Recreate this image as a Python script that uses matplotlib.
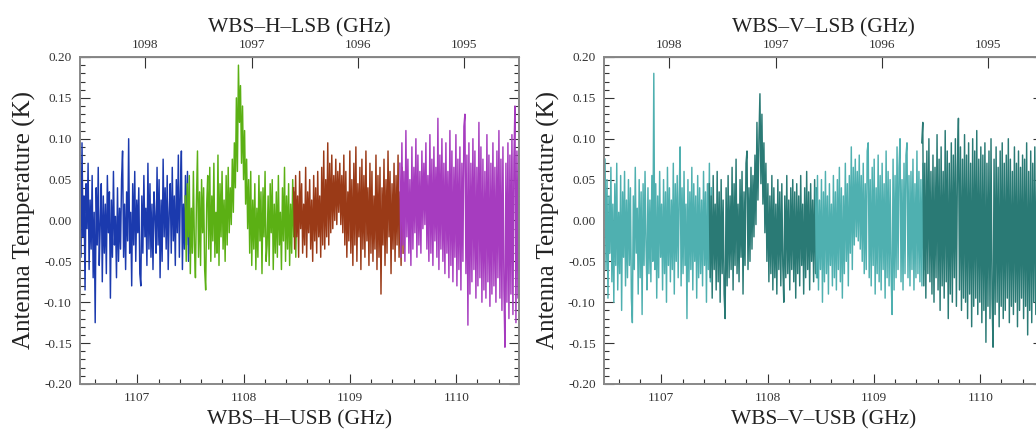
import numpy as np
import matplotlib.pyplot as plt
from matplotlib.ticker import MultipleLocator, FormatStrFormatter

plt.rcParams['font.family'] = ['Liberation Serif', 'DejaVu Serif']

# LSB = lo2 - USB (GHz)
lo2 = 2205.075

# ---- WBS-H spectrum, antenna temperature in mK, one list per sub-band ----
h_ranges = [(1106.46, 1107.50), (1107.45, 1108.50), (1108.47, 1109.50), (1109.47, 1110.59)]
h_colors = ['#1b3aae', '#5bb014', '#9a3a17', '#a63cbf']

h_blue = [60, -45, 95, -20, 30, -85, 45, -10, 70, -60,
          25, -35, 55, -70, 10, -125, 40, -30, 65, -55,
          -5, 45, -75, 30, -40, 20, -65, 55, -15, 35,
          -95, 25, -45, 60, -30, 5, -70, 40, -50, 15,
          -35, 50, 85, -45, 20, -60, 35, -25, 100, -40,
          10, -80, 45, -30, 60, -50, 25, -15, 40, -65,
          -80, 30, -40, 55, -20, 15, -55, 70, -35, 45,
          -45, 20, -60, 35, 5, -40, 65, -30, 50, -70,
          25, -50, 75, -20, 40, -35, 55, -60, 10, 45,
          -40, 65, -25, 30, -55, 50, -15, 80, -45, 35,
          85, -60, 20, -35, 55, -30, 60, -50, 15, -40]
h_green = [30, -50, 45, -20, 55, -65, 15, -40, 60, -30,
           -70, 25, 85, -45, 35, -55, 50, -15, 40, -60,
           -85, 20, 55, -35, 65, -50, 30, -25, 70, -45,
           10, -40, 80, -55, 45, -20, 60, -35, 25, -50,
           55, -30, 65, -15, 40, -5, 75, 10, 95, 40,
           150, 60, 190, 120, 165, 70, 140, 50, 110, 20,
           75, -10, 50, -40, 60, -55, 25, -35, 45, -60,
           15, -45, 55, -25, 35, -65, 40, -20, 60, -50,
           -30, 30, -55, 45, -15, 50, -60, 20, -40, 35,
           -45, 55, -30, 10, -60, 40, -25, 65, -50, 30,
           -35, 45, -55, 20, -40, 50, -20, 35, -45, 25]
h_brown = [40, -35, 55, -20, 30, -45, 60, -10, 45, -40,
           20, -30, 65, -45, 35, -15, 50, -35, 25, -50,
           55, -25, 40, -40, 60, -20, 30, -45, 65, -30,
           85, -35, 50, -20, 95, -30, 70, -15, 80, -10,
           55, 0, 75, -5, 60, 10, 70, -5, 55, -15,
           80, -30, 60, -45, 35, -25, 85, -40, 50, -55,
           70, -30, 90, -50, 45, -20, 65, -60, 75, -35,
           55, -45, 85, -25, 40, -55, 70, -40, 60, -50,
           30, -35, 80, -60, 55, -45, 65, -90, 40, -30,
           75, -55, 50, -40, 85, -20, 60, -65, 45, -35,
           70, -50, 55, -30, 80, -45, 35, -55, 65, -40]
h_purple = [70, -45, 95, -30, 60, -50, 110, -20, 75, -40,
            50, -55, 90, -35, 65, -15, 100, -45, 80, -30,
            60, -40, 85, -10, 70, -5, 95, -35, 55, -50,
            105, -40, 75, -55, 90, -25, 65, -45, 125, -60,
            80, -35, 100, -50, 70, -65, 95, -40, 60, -70,
            110, -55, 85, -75, 65, -45, 105, -80, 75, -60,
            90, -85, 70, -50, 115, 130, -65, 80, -128, 95,
            -90, 70, -75, 100, -60, 85, -95, 65, -80, 120,
            -70, 90, -100, 75, -85, 60, -95, 105, -75, 80,
            -105, 70, -90, 95, -80, 65, -100, 85, -70, 110,
            -95, 75, -110, 90, -85, -155, 70, -100, 95, -120,
            80, -90, 105, -115, 75, 140, -125, 85, -95, 120]
h_series = [h_blue, h_green, h_brown, h_purple]

# ---- WBS-V spectrum ----
v_ranges = [(1106.47, 1107.47), (1107.45, 1108.47), (1108.45, 1109.47), (1109.45, 1110.59)]
v_colors = ['#4fb0b0', '#2a7a75', '#4fb0b0', '#2a7a75']

v_a = [75, -60, 50, -95, 30, -40, 65, -75, 20, -100,
       45, -55, 70, -85, 10, -65, 55, -110, 35, -45,
       60, -80, 25, -70, 50, -55, 40, -95, -125, 30,
       -60, 65, -40, 15, -90, 50, -70, 35, -115, 45,
       -55, 60, -30, -85, 40, -65, 25, -75, 55, -50,
       180, -60, 45, -95, 30, -70, 60, -45, 20, -85,
       50, -65, 35, -100, 65, -55, 40, -75, 25, -60,
       70, -90, 45, -50, 55, -70, 30, 90, -80, 40,
       -65, 60, -55, 20, -120, 50, -75, 35, -60, 65,
       -85, 45, -50, 30, -95, 55, -70, 40, -65, 25,
       -80, 60, -55, 35, -100, 45, -60, 70, -75, 40]
v_b = [45, -70, 30, -95, 55, -60, 20, -85, 60, -75,
       35, -100, 50, -65, 25, -90, -120, 40, -80, 55,
       -70, 30, -60, 65, -85, 45, -55, 75, -65, 20,
       -75, 50, -45, 60, -90, 35, -55, 70, 85, -60,
       40, -50, 65, -35, 55, -20, 80, -5, 120, 25,
       100, 155, 45, 130, 20, 95, -15, 70, -50, 45,
       -75, 30, -65, 55, -85, 40, -70, 20, -90, 50,
       -60, 35, -80, 45, -55, -100, 30, -70, 55, -65,
       25, -85, 40, -60, 50, -75, 35, -95, 45, -65,
       30, -80, 55, -55, 20, -90, 40, -70, 60, -60,
       35, -85, 45, -50, 25, -75, 50, -65, 40, -70]
v_c = [40, -70, 55, -85, 25, -60, 50, -100, 35, -75,
       60, -65, 30, -90, 45, -55, 20, -80, 55, -70,
       35, -85, 50, -60, 65, -75, 40, -95, 30, -65,
       70, -50, 45, -80, 55, -40, 90, -60, 65, -30,
       75, -20, 60, -25, 80, -35, 55, -50, 70, -65,
       45, -60, 85, 95, -70, 50, -80, 65, -55, 75,
       -90, 40, -65, 80, -75, 55, -85, 70, -60, 45,
       -95, 85, -70, 60, -80, 50, -65, -115, 75, -85,
       55, -70, 90, -60, 65, 100, -75, 50, -85, 70,
       -65, 80, 95, -70, 55, -80, 60, -60, 75, -85,
       45, -70, 85, -65, 60, -75, 50, -80, 70, -60]
v_d = [95, 120, -80, 70, -95, 85, -65, 100, -75, 60,
       -90, 80, -100, 65, -70, 105, -85, 75, -110, 90,
       -80, 60, -95, 110, -75, 85, -120, 70, -90, 95,
       -100, 80, -70, 100, -105, 65, 125, -85, 90, -110,
       75, -95, 105, -100, 80, -120, 95, -90, 70, -130,
       100, -105, 85, -95, 110, -115, 75, -100, 90, -125,
       80, -110, 95, -149, 70, -105, 85, -120, 100, -95,
       -155, 75, -115, 90, -100, 65, -130, 85, -105, 95,
       -120, 70, -110, 80, -95, 100, -125, 75, -105, 60,
       -115, 90, -100, 70, -130, 85, -110, 65, -95, 80,
       -120, 75, -105, 95, -140, 60, -110, 85, -125, 70,
       -100, 90, -115, 65, -135, 80, -110, -165, 135, -120]
v_series = [v_a, v_b, v_c, v_d]

usb_ticks = [1107, 1108, 1109, 1110]
lsb_ticks = [1095, 1096, 1097, 1098]
xlim = (1106.46, 1110.59)
ylim = (-0.20, 0.20)


def draw_panel(ax, ranges, series, colors, pol):
    for (f0, f1), vals, c in zip(ranges, series, colors):
        x = np.linspace(f0, f1, len(vals))
        ax.plot(x, np.array(vals) / 1000.0, color=c, lw=1.05)
    ax.set_xlim(*xlim)
    ax.set_ylim(*ylim)
    ax.set_xticks(usb_ticks)
    ax.xaxis.set_minor_locator(MultipleLocator(0.2))
    ax.yaxis.set_major_locator(MultipleLocator(0.05))
    ax.yaxis.set_minor_locator(MultipleLocator(0.01))
    ax.yaxis.set_major_formatter(FormatStrFormatter('%.2f'))
    ax.tick_params(which='both', direction='in', right=True, labelsize=9.5,
                   colors='#333333', width=0.8)
    ax.tick_params(which='major', length=7, pad=6)
    ax.tick_params(which='minor', length=3.5)
    for s in ax.spines.values():
        s.set_color('#888888')
        s.set_linewidth(1.4)
    ax.set_xlabel('WBS–%s–USB (GHz)' % pol, fontsize=15.5, labelpad=4, color='#222222')
    ax.set_ylabel('Antenna Temperature (K)', fontsize=18, labelpad=6, color='#222222')
    top = ax.secondary_xaxis('top', functions=(lambda f: lo2 - f, lambda f: lo2 - f))
    top.set_xticks(lsb_ticks)
    top.tick_params(direction='in', length=8, labelsize=9.5, colors='#333333', pad=4)
    top.set_xlabel('WBS–%s–LSB (GHz)' % pol, fontsize=15.5, labelpad=5, color='#222222')


fig = plt.figure(figsize=(10.36, 4.33), dpi=100)
ax1 = fig.add_axes([0.0772, 0.1132, 0.4237, 0.7552])
ax2 = fig.add_axes([0.583, 0.1132, 0.4237, 0.7552])
draw_panel(ax1, h_ranges, h_series, h_colors, 'H')
draw_panel(ax2, v_ranges, v_series, v_colors, 'V')

fig.savefig('out.png', dpi=100)
